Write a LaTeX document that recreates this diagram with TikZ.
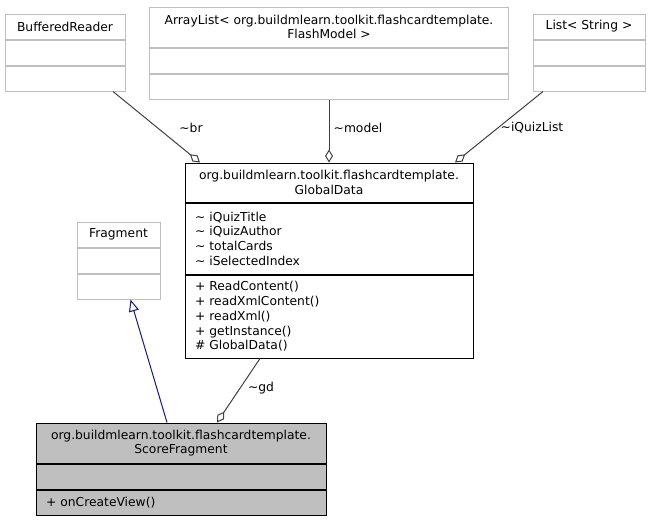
\documentclass[tikz,border=0pt]{standalone}
\usepackage{fontspec}
\setmainfont{DejaVu Sans}
\usetikzlibrary{arrows.meta,positioning}
\definecolor{boxgray}{HTML}{BFBFBF}
\definecolor{edgegray}{HTML}{404040}
\definecolor{inhblue}{HTML}{191970}

\begin{document}
\begin{tikzpicture}[x=1pt,y=-1pt,
	every node/.style={font=\fontsize{12.3}{14.7}\selectfont},
	ext/.style={draw=boxgray,fill=white,line width=1pt,inner sep=0pt},
	own/.style={draw=black,fill=white,line width=1pt,inner sep=0pt},
	cur/.style={draw=black,fill=boxgray,line width=1pt,inner sep=0pt},
	members/.style={align=left,inner xsep=10pt},
	agg/.style={draw=edgegray,line width=1pt,-{Diamond[open,length=13pt,width=8pt]}},
	inh/.style={draw=inhblue,line width=1pt,-{Triangle[open,length=12pt,width=10pt]}}]
			\useasboundingbox (0,0) rectangle (651,520);

			% external classes
			\node[ext,minimum width=120pt,minimum height=25pt,align=center] (reader) at (65,26.5) {BufferedReader};
			\node[ext,minimum width=120pt,minimum height=25pt,below=0pt of reader] (readerAttr) {};
			\node[ext,minimum width=120pt,minimum height=25pt,below=0pt of readerAttr] (readerOps) {};

			\node[ext,minimum width=359pt,minimum height=40pt,align=center] (models) at (329,27) {ArrayList< org.buildmlearn.toolkit.flashcardtemplate.\\FlashModel >};
			\node[ext,minimum width=359pt,minimum height=25pt,below=0pt of models] (modelsAttr) {};
			\node[ext,minimum width=359pt,minimum height=25pt,below=0pt of modelsAttr] (modelsOps) {};

			\node[ext,minimum width=112pt,minimum height=25pt,align=center] (strlist) at (589,26.5) {List< String >};
			\node[ext,minimum width=112pt,minimum height=25pt,below=0pt of strlist] (strlistAttr) {};
			\node[ext,minimum width=112pt,minimum height=25pt,below=0pt of strlistAttr] (strlistOps) {};

			\node[ext,minimum width=83pt,minimum height=25pt,align=center] (frag) at (118.5,234.5) {Fragment};
			\node[ext,minimum width=83pt,minimum height=25pt,below=0pt of frag] (fragAttr) {};
			\node[ext,minimum width=83pt,minimum height=25pt,below=0pt of fragAttr] (fragOps) {};

			% GlobalData
			\node[own,minimum width=288pt,minimum height=39pt,align=center] (data) at (329,182.5) {org.buildmlearn.toolkit.flashcardtemplate.\\GlobalData};
			\node[own,members,text width=268pt,minimum height=71pt,below=0pt of data] (dataAttr) {\textasciitilde{} iQuizTitle\\\textasciitilde{} iQuizAuthor\\\textasciitilde{} totalCards\\\textasciitilde{} iSelectedIndex};
			\node[own,members,text width=268pt,minimum height=83pt,below=0pt of dataAttr] (dataOps) {+ ReadContent()\\+ readXmlContent()\\+ readXml()\\+ getInstance()\\\# GlobalData()};

			% ScoreFragment
			\node[cur,minimum width=290pt,minimum height=40pt,align=center] (score) at (181,443) {org.buildmlearn.toolkit.flashcardtemplate.\\ScoreFragment};
			\node[cur,minimum width=290pt,minimum height=25pt,below=0pt of score] (scoreAttr) {};
			\node[cur,members,text width=270pt,minimum height=25pt,below=0pt of scoreAttr] (scoreOps) {+ onCreateView()};

			% relations
			\draw[agg] ([xshift=48pt]readerOps.south) -- ([xshift=-129pt]data.north);
			\draw[agg] (modelsOps.south) -- (data.north);
			\draw[agg] ([xshift=-46pt]strlistOps.south) -- ([xshift=126pt]data.north);
			\draw[agg] ([xshift=-69pt]dataOps.south) -- ([xshift=36pt]score.north);
			\draw[inh] ([xshift=-14pt]score.north) -- ([xshift=12pt]fragOps.south);

			\node (brLabel) at (191,128) {\textasciitilde br};
			\node (modelLabel) at (358,128) {\textasciitilde model};
			\node (quizLabel) at (532,128) {\textasciitilde iQuizList};
			\node (gdLabel) at (261,388) {\textasciitilde gd};
		\end{tikzpicture}
\end{document}
